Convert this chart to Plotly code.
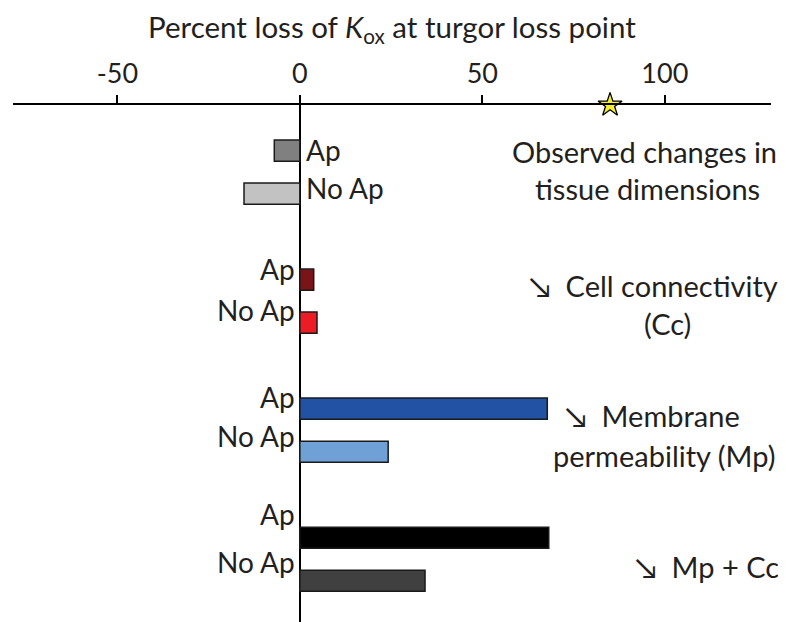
import plotly.graph_objects as go

# ---- data ----
groups = ["Observed changes in tissue dimensions", "Cell connectivity (Cc)", "Membrane permeability (Mp)", "Mp + Cc"]
treatments = ["Ap", "No Ap"]
values = [-7.0, -15.3, 3.8, 4.7, 67.8, 24.2, 68.2, 34.3]
bar_colors = ["#808080", "#c2c2c2", "#7a1418", "#ec1c24", "#2152a3", "#6fa0d6", "#000000", "#404040"]
slots = [0, 1, 3, 4, 6, 7, 9, 10]
star_value = [85.0]
x_ticks = [-50, 0, 50, 100]

FONT = "Lato"
TXT = "#231f20"

fig = go.Figure()
fig.add_trace(go.Bar(
    x=values, y=slots, orientation="h", width=0.49,
    marker=dict(color=bar_colors, line=dict(color="#1a1a1a", width=1.5)),
    showlegend=False, hoverinfo="skip",
))

y_top = -1.06
fig.add_trace(go.Scatter(
    x=star_value, y=[y_top], mode="markers",
    marker=dict(symbol="star", size=18, color="#f5ee2a", line=dict(color="black", width=1.3)),
    cliponaxis=False, showlegend=False, hoverinfo="skip",
))

ann = []
label_pos = [
    (0, -0.02, "Ap", "left"), (0, 0.87, "No Ap", "left"),
    (0, 2.76, "Ap", "right"), (0, 3.7, "No Ap", "right"),
    (0, 5.72, "Ap", "right"), (0, 6.63, "No Ap", "right"),
    (0, 8.46, "Ap", "right"), (0, 9.57, "No Ap", "right"),
]
for x, y, t, side in label_pos:
    ann.append(dict(x=x, y=y, xref="x", yref="y", text=t, showarrow=False,
                    xanchor=side, yanchor="middle",
                    xshift=4 if side == "left" else -3,
                    font=dict(size=28, color=TXT, family=FONT)))

right_text = [
    (94.5, 0.03, "Observed changes in", 29),
    (95.3, 0.87, "tissue dimensions", 29),
    (97.0, 3.13, "↘  Cell connectivity", 29),
    (100.8, 4.01, "(Cc)", 29),
    (96.7, 6.15, "↘  Membrane", 29),
    (99.7, 7.08, "permeability (Mp)", 29),
    (111.5, 9.66, "↘  Mp + Cc", 29),
]
for x, y, t, s in right_text:
    ann.append(dict(x=x, y=y, xref="x", yref="y", text=t, showarrow=False,
                    xanchor="center", yanchor="middle", align="center",
                    font=dict(size=s, color=TXT, family=FONT)))

fig.update_layout(
    width=778, height=614,
    margin=dict(l=5, r=15, t=97, b=0),
    paper_bgcolor="white", plot_bgcolor="white",
    font=dict(family=FONT, size=26, color=TXT),
    annotations=ann,
    xaxis=dict(
        side="top", range=[-78.6, 129.1], tickvals=x_ticks,
        ticktext=[str(v) for v in x_ticks],
        showline=True, linecolor="black", linewidth=2,
        ticks="outside", ticklen=8, tickwidth=1.5, tickcolor="black",
        ticklabelstandoff=1,
        tickfont=dict(size=27, color=TXT, family=FONT),
        showgrid=False, zeroline=True, zerolinecolor="black", zerolinewidth=2,
    ),
    yaxis=dict(range=[10.96, y_top], visible=False, showgrid=False, zeroline=False),
)
fig.add_annotation(x=0.5, y=1, xref="paper", yref="paper", yshift=77, yanchor="middle",
                   text="Percent loss of <i>K</i><sub>ox</sub> at turgor loss point",
                   showarrow=False, font=dict(size=29.5, color=TXT, family=FONT))

fig.write_html("out.html")
